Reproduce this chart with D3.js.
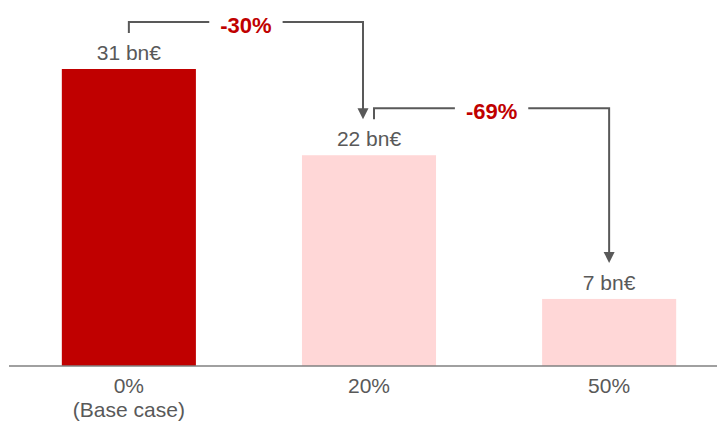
<!DOCTYPE html>
<html>
<head>
<meta charset="utf-8">
<script src="https://cdn.jsdelivr.net/npm/d3@7"></script>
<style>
  html, body { margin: 0; padding: 0; background: #fff; }
  svg { display: block; font-family: "Liberation Sans", Arial, sans-serif; }
</style>
</head>
<body>
<svg id="chart" width="717" height="423"></svg>
<script>
// Scenario categories (first line / optional second line of the axis label)
const categories = ["0%", "20%", "50%"];
const categorySubtitles = ["(Base case)", "", ""];
// Values in bn€
const values = [31, 22, 7];
const valueLabels = ["31 bn€", "22 bn€", "7 bn€"];
// Change between consecutive scenarios
const changeLabels = ["-30%", "-69%"];

const W = 717, H = 423;
const baseY = 366;
const svg = d3.select("#chart");

const x = d3.scaleBand()
  .domain(categories)
  .range([9, 729])
  .paddingInner(0.4417)
  .paddingOuter(0.22);

const y = d3.scaleLinear()
  .domain([0, 31])
  .range([baseY, baseY - 297]);

const barColor = (d, i) => i === 0 ? "#C00000" : "#FFD7D7";
const textColor = "#595959";
const lineColor = "#595959";
const fontSize = "21px";

// Bars
svg.selectAll("rect.bar")
  .data(values)
  .join("rect")
  .attr("class", "bar")
  .attr("x", (d, i) => x(categories[i]))
  .attr("y", d => y(d))
  .attr("width", x.bandwidth())
  .attr("height", d => baseY - y(d))
  .attr("fill", barColor);

// Baseline
svg.append("line")
  .attr("x1", 9).attr("x2", W)
  .attr("y1", baseY).attr("y2", baseY)
  .attr("stroke", "#808080")
  .attr("stroke-width", 1.5);

// Value labels above bars
svg.selectAll("text.val")
  .data(values)
  .join("text")
  .attr("class", "val")
  .attr("x", (d, i) => x(categories[i]) + x.bandwidth() / 2)
  .attr("y", d => y(d) - 9)
  .attr("text-anchor", "middle")
  .attr("font-size", fontSize)
  .attr("fill", textColor)
  .text((d, i) => valueLabels[i]);

// Category labels
const catG = svg.selectAll("g.cat")
  .data(categories)
  .join("g")
  .attr("class", "cat")
  .attr("transform", d => `translate(${x(d) + x.bandwidth() / 2},0)`);
catG.append("text")
  .attr("y", 393)
  .attr("text-anchor", "middle")
  .attr("font-size", fontSize)
  .attr("fill", textColor)
  .text(d => d);
catG.filter((d, i) => categorySubtitles[i] !== "")
  .append("text")
  .attr("y", 417)
  .attr("text-anchor", "middle")
  .attr("font-size", fontSize)
  .attr("fill", textColor)
  .text((d) => categorySubtitles[categories.indexOf(d)]);

// Change brackets with arrows between consecutive bars
const cx = i => x(categories[i]) + x.bandwidth() / 2;
const hasIn = i => i > 0;
const hasOut = i => i < values.length - 1;

changeLabels.forEach((lab, k) => {
  const from = k, to = k + 1;
  const x0 = cx(from) + (hasIn(from) ? 5 : 0);
  const x1 = cx(to) - (hasOut(to) ? 6 : 0);
  const topFrom = y(values[from]);
  const hy = topFrom - 47;
  const tickEnd = topFrom - 36;
  const tipY = y(values[to]) - 36;
  const mid = (x0 + x1) / 2;

  const g = svg.append("g");
  const t = g.append("text")
    .attr("x", mid)
    .attr("y", hy + 11)
    .attr("text-anchor", "middle")
    .attr("font-size", "22px")
    .attr("font-weight", "bold")
    .attr("fill", "#C00000")
    .text(lab);
  const half = t.node().getComputedTextLength() / 2 + 11;

  const line = d3.line();
  g.append("path")
    .attr("d", line([[x0, tickEnd], [x0, hy], [mid - half, hy]]))
    .attr("fill", "none")
    .attr("stroke", lineColor)
    .attr("stroke-width", 2);
  g.append("path")
    .attr("d", line([[mid + half, hy], [x1, hy], [x1, tipY - 10]]))
    .attr("fill", "none")
    .attr("stroke", lineColor)
    .attr("stroke-width", 2);
  g.append("path")
    .attr("d", line([[x1 - 5.5, tipY - 11], [x1 + 5.5, tipY - 11], [x1, tipY]]) + "Z")
    .attr("fill", lineColor);
});
</script>
</body>
</html>
